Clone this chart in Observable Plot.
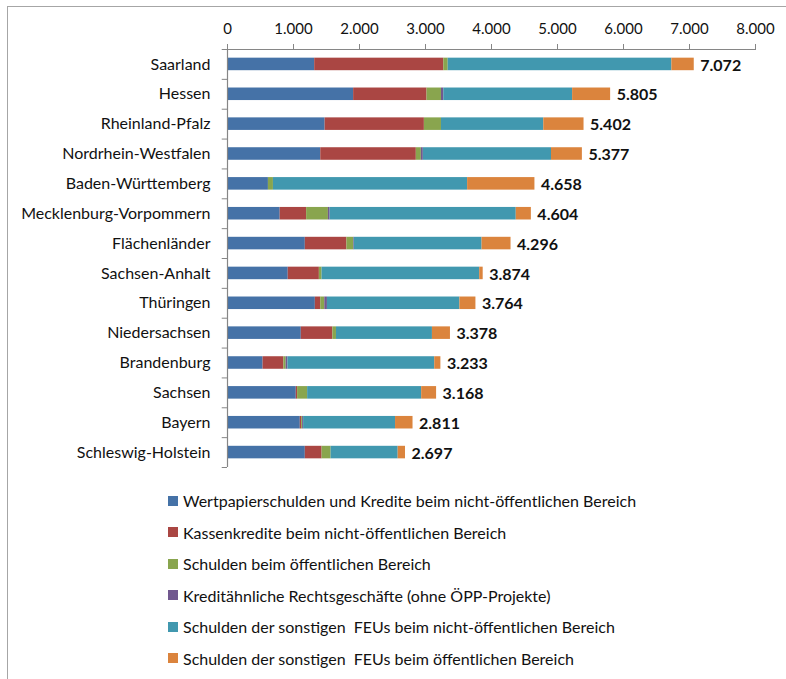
<!DOCTYPE html>
<html>
<head>
<meta charset="utf-8">
<script src="https://cdn.jsdelivr.net/npm/d3@7"></script>
<script src="https://cdn.jsdelivr.net/npm/@observablehq/plot@0.6"></script>
<style>
  html, body { margin: 0; padding: 0; background: #fff; }
  #wrap { position: relative; width: 786px; height: 679px; overflow: hidden; font-family: Lato, "Noto Sans", sans-serif; }
  #frame { position: absolute; left: 7px; top: 6px; width: 800px; height: 700px; border-top: 1.5px solid #a6a6a6; border-left: 1.5px solid #a6a6a6; pointer-events: none; }
  #chart { position: absolute; left: 0; top: 0; }
  #legend { position: absolute; left: 168px; top: 485px; }
  .item { display: flex; align-items: center; height: 31.5px; font-size: 16px; color: #111; white-space: pre; }
  .sw { width: 10px; height: 10px; margin-right: 5px; flex: none; }
</style>
</head>
<body>
<div id="wrap">
  <div id="frame"></div>
  <div id="chart"></div>
  <div id="legend"></div>
</div>
<script>
const categories = ["Saarland","Hessen","Rheinland-Pfalz","Nordrhein-Westfalen","Baden-Württemberg","Mecklenburg-Vorpommern","Flächenländer","Sachsen-Anhalt","Thüringen","Niedersachsen","Brandenburg","Sachsen","Bayern","Schleswig-Holstein"];
const seriesNames = [
  "Wertpapierschulden und Kredite beim nicht-öffentlichen Bereich",
  "Kassenkredite beim nicht-öffentlichen Bereich",
  "Schulden beim öffentlichen Bereich",
  "Kreditähnliche Rechtsgeschäfte (ohne ÖPP-Projekte)",
  "Schulden der sonstigen  FEUs beim nicht-öffentlichen Bereich",
  "Schulden der sonstigen  FEUs beim öffentlichen Bereich"
];
const seriesColors = ["#4572A7","#AA4643","#89A54E","#71588F","#4198AF","#DB843D"];
const wertpapier     = [1321,1911,1479,1413, 620, 798,1179, 920,1331,1118, 539,1042,1103,1179];
const kassenkredite  = [1956,1112,1504,1448,   0, 401, 630, 472,  82, 478, 315,  20,  20, 254];
const oeffentlich    = [  67, 219, 259,  76,  76, 330, 102,  41,  61,  55,  35, 152,  15, 137];
const kreditaehnlich = [   0,  35,   0,  30,   0,  26,  10,   0,  40,   0,  26,   0,  15,   0];
const feuNichtOeff   = [3389,1952,1550,1942,2942,2820,1936,2388,2007,1454,2225,1728,1393,1016];
const feuOeff        = [ 339, 576, 610, 468,1020, 229, 439,  53, 243, 273,  93, 226, 265, 111];
const totals         = [7072,5805,5402,5377,4658,4604,4296,3874,3764,3378,3233,3168,2811,2697];
const xTicks = [0,1000,2000,3000,4000,5000,6000,7000,8000];

const seriesValues = [wertpapier, kassenkredite, oeffentlich, kreditaehnlich, feuNichtOeff, feuOeff];
const rows = [];
seriesNames.forEach((s, si) => {
  categories.forEach((c, ci) => rows.push({land: c, series: s, value: seriesValues[si][ci]}));
});
const totalRows = categories.map((c, i) => ({land: c, total: totals[i]}));

const de = d3.formatLocale({decimal: ",", thousands: ".", grouping: [3], currency: ["", "€"]});
const fmt = de.format(",d");

const marginTop = 49, marginBottom = 3, plotH = 418;
const step = plotH / categories.length;
const axisColor = "#868686";

const chart = Plot.plot({
  width: 786,
  height: marginTop + plotH + marginBottom,
  marginLeft: 227,
  marginRight: 31,
  marginTop,
  marginBottom,
  style: {fontFamily: "Lato, 'Noto Sans', sans-serif", fontSize: "15px", color: "#111", background: "transparent", overflow: "visible"},
  x: {domain: [0, 8000], label: null},
  y: {domain: categories, paddingInner: 0.58, paddingOuter: 0.29, round: false, label: null},
  color: {domain: seriesNames, range: seriesColors},
  marks: [
    Plot.barX(rows, Plot.stackX({y: "land", x: "value", fill: "series", order: null})),
    Plot.ruleX([0], {stroke: axisColor, strokeWidth: 1.2}),
    Plot.ruleY([categories[0]], {x1: 0, x2: 8000, dy: -step / 2, stroke: axisColor, strokeWidth: 1.2}),
    Plot.ruleY(categories, {y: d => d, x1: -80, x2: 0, dy: -step / 2, stroke: axisColor}),
    Plot.ruleY([categories[categories.length - 1]], {x1: -80, x2: 0, dy: step / 2, stroke: axisColor}),
    Plot.axisX({anchor: "top", ticks: xTicks, tickFormat: fmt, tickSize: 6, tickPadding: 10, stroke: axisColor, fontSize: 15, fill: "#111", label: null}),
    Plot.axisY({tickSize: 0, tickPadding: 17, fontSize: 16, fill: "#111", label: null}),
    Plot.text(totalRows, {y: "land", x: "total", text: d => fmt(d.total), textAnchor: "start", dx: 6, dy: 1, fontWeight: "bold", fontSize: 16, fill: "#111"})
  ]
});
document.getElementById("chart").appendChild(chart);

const legend = document.getElementById("legend");
seriesNames.forEach((s, i) => {
  const item = document.createElement("div");
  item.className = "item";
  const sw = document.createElement("span");
  sw.className = "sw";
  sw.style.background = seriesColors[i];
  const t = document.createElement("span");
  t.textContent = s;
  item.appendChild(sw);
  item.appendChild(t);
  legend.appendChild(item);
});
</script>
</body>
</html>
